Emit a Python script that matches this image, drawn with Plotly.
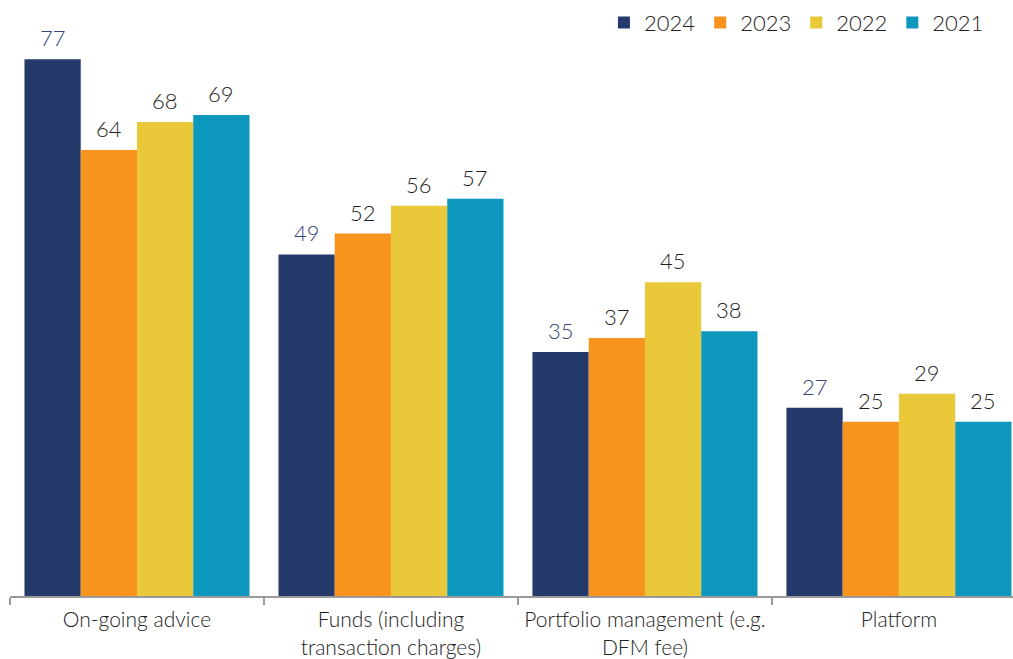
import plotly.graph_objects as go

categories = [
    "On-going advice",
    "Funds (including<br>transaction charges)",
    "Portfolio management (e.g.<br>DFM fee)",
    "Platform",
]
years = ["2024", "2023", "2022", "2021"]
values = {
    "2024": [77, 49, 35, 27],
    "2023": [64, 52, 37, 25],
    "2022": [68, 56, 45, 29],
    "2021": [69, 57, 38, 25],
}
colors = {
    "2024": "#243a6b",
    "2023": "#f7941d",
    "2022": "#e9c939",
    "2021": "#0e97bd",
}
label_colors = {
    "2024": "#34457a",
    "2023": "#1e1e1e",
    "2022": "#1e1e1e",
    "2021": "#1e1e1e",
}

FONT = "Lato"
WEIGHT = 300
BARGAP = 0.114

fig = go.Figure()
for yr in years:
    fig.add_trace(go.Bar(
        name=yr,
        x=categories,
        y=values[yr],
        marker=dict(color=colors[yr], line=dict(width=0)),
    ))

# value labels above each bar, centred on the bar's slot within its group
n = len(years)
slot = (1 - BARGAP) / n
for j, yr in enumerate(years):
    for i, v in enumerate(values[yr]):
        fig.add_annotation(
            x=i + (j - (n - 1) / 2) * slot,
            y=v,
            xref="x", yref="y",
            text=str(v),
            showarrow=False,
            yanchor="bottom",
            yshift=6,
            font=dict(family=FONT, size=22, color=label_colors[yr], weight=WEIGHT),
        )

fig.update_layout(
    width=1013,
    height=659,
    barmode="group",
    bargap=BARGAP,
    bargroupgap=0,
    plot_bgcolor="white",
    paper_bgcolor="white",
    margin=dict(l=10, r=0, t=0, b=63, autoexpand=False),
    font=dict(family=FONT, size=21, color="#222222", weight=WEIGHT),
    showlegend=True,
    legend=dict(
        orientation="h",
        x=0.976, xanchor="right",
        y=0.997, yanchor="top",
        font=dict(family=FONT, size=22, color="#1e1e1e", weight=WEIGHT),
        bgcolor="rgba(0,0,0,0)",
    ),
    xaxis=dict(
        type="category",
        range=[-0.5, 3.449],
        automargin=False,
        tickangle=0,
        showline=True,
        linecolor="#9a9a9a",
        linewidth=2,
        ticks="outside",
        tickson="boundaries",
        ticklen=7,
        tickwidth=2,
        tickcolor="#9a9a9a",
        ticklabelstandoff=4,
        tickfont=dict(family=FONT, size=21, color="#222222", weight=WEIGHT),
        showgrid=False,
    ),
    yaxis=dict(
        range=[0, 596 / 6.97],
        visible=False,
        showgrid=False,
        zeroline=False,
    ),
)

fig.write_html("out.html")
